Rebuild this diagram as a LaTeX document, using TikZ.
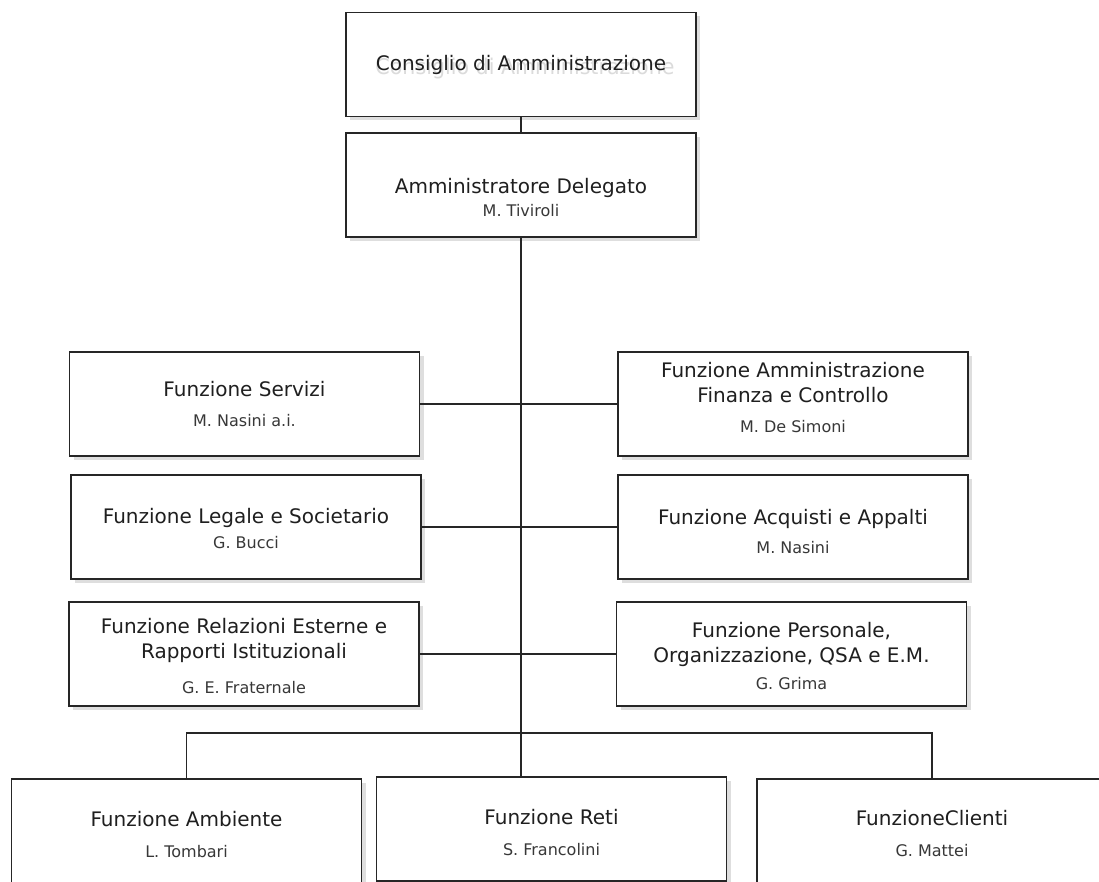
\documentclass[tikz,border=0pt]{standalone}
\usepackage{fontspec}
\setmainfont{DejaVu Sans}
\usetikzlibrary{shadows}
\tikzset{
  unit/.style={draw=black!85, line width=1.6pt, fill=white,
    minimum width=350pt, minimum height=104pt, inner sep=0pt,
    align=center, text=black!88, font=\fontsize{20}{25}\selectfont,
    drop shadow={shadow xshift=4pt, shadow yshift=-4pt, fill=black!13, opacity=1}},
  sub at/.style={text height=#1, text depth=0pt},
  ghost/.style={text=black!14, font=\fontsize{20}{25}\selectfont, xscale=1.03, yscale=1.08},
  link/.style={draw=black!85, line width=1.6pt}
}
\newcommand{\who}[1]{{\fontsize{16}{19}\selectfont\color{black!78}#1}}

\begin{document}
\begin{tikzpicture}[x=1pt, y=-1pt]
\useasboundingbox (0,0) rectangle (1099,882);
\clip (0,0) rectangle (1099,882);
% Vertici
    \node[unit] (cda) at (521,64.5) {};
    \node[ghost] (cda-ghost) at (525,69) {Consiglio di Amministrazione};
    \node[text=black!88, font=\fontsize{20}{25}\selectfont] (cda-title) at (cda.center) {Consiglio di Amministrazione};
    \node[unit, sub at=63pt] (ad) at (521,185) {Amministratore Delegato\\[-2pt]\who{M. Tiviroli}};
% Funzioni di staff, lato sinistro
    \node[unit, sub at=45pt] (serv) at (244.5,404) {Funzione Servizi\\[5pt]\who{M. Nasini a.i.}};
    \node[unit, sub at=43.6pt] (leg) at (246,527) {Funzione Legale e Societario\\\who{G. Bucci}};
    \node[unit, sub at=79pt] (rel) at (244,654) {Funzione Relazioni Esterne e\\Rapporti Istituzionali\\[10pt]\who{G. E. Fraternale}};
% Funzioni di staff, lato destro
    \node[unit, sub at=57.6pt] (afc) at (793,404) {Funzione Amministrazione\\Finanza e Controllo\\[5pt]\who{M. De Simoni}};
    \node[unit, sub at=53.6pt] (acq) at (793,527) {Funzione Acquisti e Appalti\\[4pt]\who{M. Nasini}};
    \node[unit, sub at=71pt] (pers) at (791.5,654) {Funzione Personale,\\Organizzazione, QSA e E.M.\\[2pt]\who{G. Grima}};
% Funzioni di linea
    \node[unit, sub at=53pt] (amb) at (186.5,831) {Funzione Ambiente\\[6pt]\who{L. Tombari}};
    \node[unit, sub at=52pt] (reti) at (551.5,829) {Funzione Reti\\[6pt]\who{S. Francolini}};
    \node[unit, sub at=51pt] (cli) at (932,831) {FunzioneClienti\\[6pt]\who{G. Mattei}};
% Collegamenti
    \coordinate (bus) at (521,733);
    \draw[link] (cda.south) -- (ad.north);
    \draw[link] (ad.south) -- (ad.south |- reti.north);
    \draw[link] (serv.east) -- (afc.west);
    \draw[link] (leg.east) -- (acq.west);
    \draw[link] (rel.east) -- (pers.west);
    \draw[link] (amb.north) |- (bus) -| (cli.north);
\end{tikzpicture}
\end{document}
